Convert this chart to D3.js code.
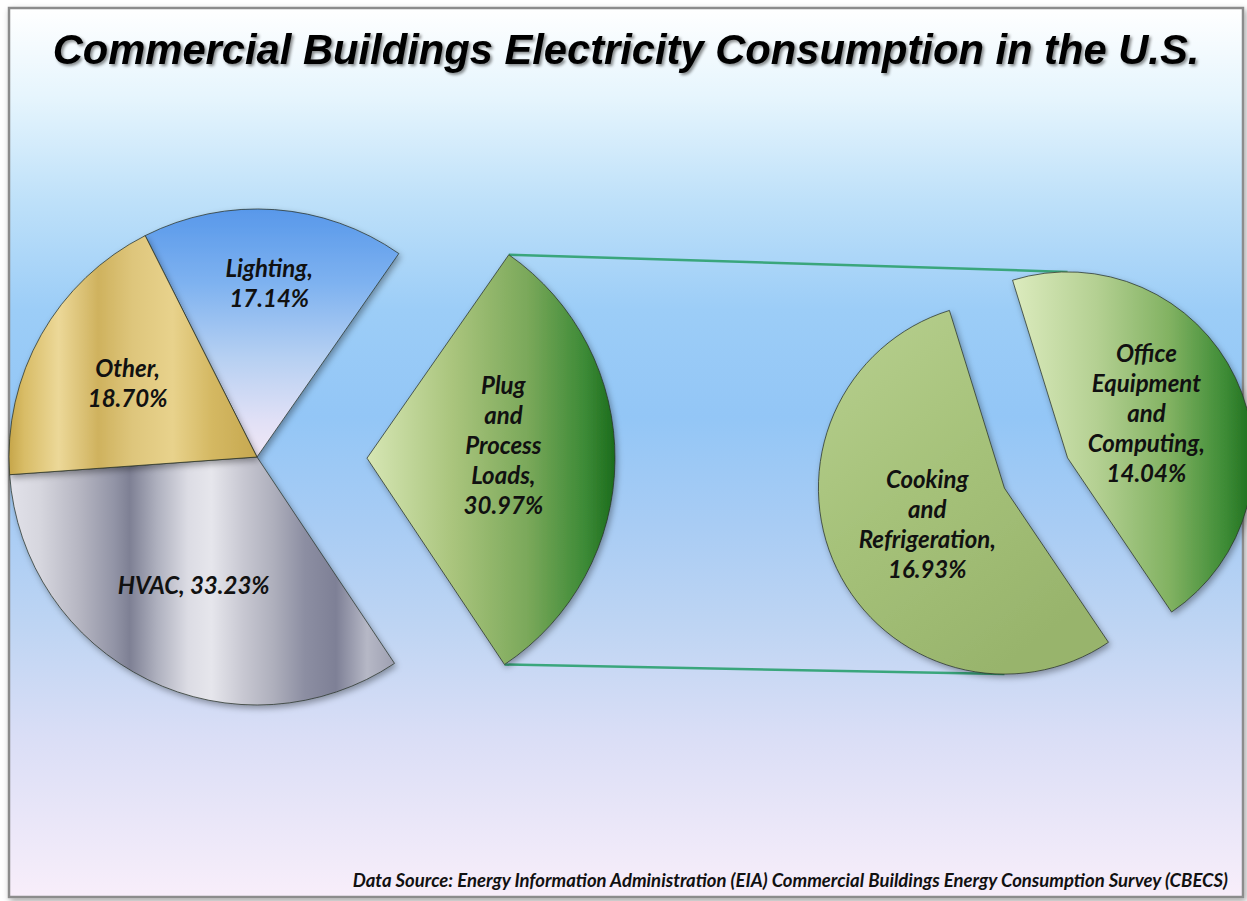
<!DOCTYPE html>
<html>
<head>
<meta charset="utf-8">
<script src="https://cdn.jsdelivr.net/npm/d3@7"></script>
<style>
  body { margin: 0; background: #fff; }
  svg text { font-family: Lato, "Open Sans", sans-serif; }
</style>
</head>
<body>
<div id="chart"></div>
<script>
// main pie, clockwise from the Lighting edge
var mainNames = ["Lighting", "Plug and Process Loads", "HVAC", "Other"];
var mainValues = [17.14, 30.97, 33.23, 18.70];
var mainOneLine = [false, false, true, false];

// breakdown of Plug and Process Loads
var subNames = ["Cooking and Refrigeration", "Office Equipment and Computing"];
var subValues = [16.93, 14.04];
var subOneLine = [false, false];

var title = "Commercial Buildings Electricity Consumption in the U.S.";
var source = "Data Source: Energy Information Administration (EIA) Commercial Buildings Energy Consumption Survey (CBECS)";

var width = 1247, height = 901;
var deg = Math.PI / 180;

var main = {cx: 257, cy: 457, r: 248, start: -26.8 * deg, explodeIdx: 1, explode: 110,
            labelR: [0.70, 0.55, 0.58, 0.60], labelDy: [0, -14, 0, 0]};
var sub = {cx: 1036, cy: 473, r: 186, start: 146 * deg, explode: 35,
           labelR: [0.46, 0.47], labelDy: [0, -6]};

var svg = d3.select("#chart").append("svg")
    .attr("width", width)
    .attr("height", height);

var defs = svg.append("defs");

function addGradient(id, stops, attrs) {
  var g = defs.append("linearGradient").attr("id", id);
  for (var k in attrs) g.attr(k, attrs[k]);
  stops.forEach(function(s) {
    g.append("stop").attr("offset", s[0]).attr("stop-color", s[1]);
  });
}

addGradient("bg", [[0, "#ffffff"], [0.1, "#e6f5fd"], [0.22, "#bde0f9"], [0.34, "#9ccdf7"],
  [0.46, "#93c6f6"], [0.58, "#a8ccf4"], [0.7, "#bfd5f3"], [0.82, "#dadef6"], [1, "#f8eefa"]],
  {x1: 0, y1: 0, x2: 0, y2: 1});

// slice paths sit in groups translated to the slice centre, so user-space gradients are relative to it
addGradient("g-lighting", [[0, "#5898ea"], [0.3, "#7eb2f0"], [0.6, "#b6d0f2"], [0.85, "#e0e0f6"], [1, "#f2e8f6"]],
  {x1: 0, y1: 0, x2: 0, y2: 1});
addGradient("g-hvac", [[0, "#e2e2ea"], [0.08, "#d6d6de"], [0.18, "#b6b6c2"], [0.27, "#9294a6"],
  [0.31, "#7e8094"], [0.38, "#aeb0be"], [0.46, "#dcdce4"], [0.52, "#e6e6ec"], [0.6, "#c8c8d2"],
  [0.68, "#aeafbc"], [0.76, "#8c8ea2"], [0.84, "#7e8096"], [0.92, "#b6b8c6"], [1, "#9a9cae"]],
  {gradientUnits: "userSpaceOnUse", x1: -main.r, y1: 0, x2: main.r * 0.57, y2: 0});
addGradient("g-other", [[0, "#c6a64a"], [0.06, "#d8bc66"], [0.2, "#ecd898"], [0.36, "#cfb25e"],
  [0.5, "#dec67c"], [0.66, "#e8d28c"], [0.82, "#d4b862"], [1, "#c6a850"]],
  {gradientUnits: "userSpaceOnUse", x1: -main.r, y1: 0, x2: 0, y2: 0});
addGradient("g-plug", [[0, "#d6e6b4"], [0.35, "#a9c47c"], [0.65, "#7aa85a"], [0.88, "#3c8a36"], [1, "#1c6c1c"]],
  {x1: 0, y1: 0, x2: 1, y2: 0});
addGradient("g-cooking", [[0, "#b8d090"], [0.5, "#a6c27a"], [1, "#98b46c"]],
  {x1: 0, y1: 0, x2: 0.6, y2: 1});
addGradient("g-office", [[0, "#dcebbe"], [0.35, "#b4d092"], [0.65, "#82b262"], [0.88, "#3e8c36"], [1, "#1e6e1e"]],
  {x1: 0, y1: 0, x2: 1, y2: 0});

var mainFills = ["url(#g-lighting)", "url(#g-plug)", "url(#g-hvac)", "url(#g-other)"];
var subFills = ["url(#g-cooking)", "url(#g-office)"];

var shadow = defs.append("filter").attr("id", "shadow")
    .attr("x", "-10%").attr("y", "-10%").attr("width", "130%").attr("height", "130%");
shadow.append("feDropShadow").attr("dx", 2).attr("dy", 3).attr("stdDeviation", 3)
    .attr("flood-color", "#000").attr("flood-opacity", 0.35);

var tshadow = defs.append("filter").attr("id", "tshadow")
    .attr("x", "-5%").attr("y", "-20%").attr("width", "110%").attr("height", "150%");
tshadow.append("feDropShadow").attr("dx", 2).attr("dy", 2).attr("stdDeviation", 1.5)
    .attr("flood-color", "#000").attr("flood-opacity", 0.45);

// frame
svg.append("rect")
    .attr("x", 9).attr("y", 8)
    .attr("width", 1234).attr("height", 889)
    .attr("fill", "url(#bg)")
    .attr("stroke", "#8c8c8c")
    .attr("stroke-width", 2.5)
    .attr("filter", "url(#shadow)");

svg.append("text")
    .attr("x", 626).attr("y", 64)
    .attr("text-anchor", "middle")
    .style("font-family", "'Liberation Sans', Arial, sans-serif")
    .style("font-weight", "bold")
    .style("font-style", "italic")
    .style("font-size", "41.7px")
    .attr("fill", "#000")
    .attr("filter", "url(#tshadow)")
    .text(title);

// pies
var mainPie = d3.pie().sort(null).value(function(d) { return d; })
    .startAngle(main.start).endAngle(main.start + 2 * Math.PI);
var subPie = d3.pie().sort(null).value(function(d) { return d; })
    .startAngle(sub.start).endAngle(sub.start + 2 * Math.PI);

var mainArcs = mainPie(mainValues);
var subArcs = subPie(subValues);

var mainArc = d3.arc().innerRadius(0).outerRadius(main.r);
var subArc = d3.arc().innerRadius(0).outerRadius(sub.r);

function mid(a) { return (a.startAngle + a.endAngle) / 2; }
function offset(a, dist) { return [dist * Math.sin(mid(a)), -dist * Math.cos(mid(a))]; }

mainArcs.forEach(function(a, i) {
  var o = offset(a, i === main.explodeIdx ? main.explode : 0);
  a.x = main.cx + o[0]; a.y = main.cy + o[1];
  a.r = main.r; a.name = mainNames[i]; a.fill = mainFills[i];
  a.oneLine = mainOneLine[i]; a.labelR = main.labelR[i]; a.labelDy = main.labelDy[i];
  a.arcFn = mainArc;
});
subArcs.forEach(function(a, i) {
  var o = offset(a, sub.explode);
  a.x = sub.cx + o[0]; a.y = sub.cy + o[1];
  a.r = sub.r; a.name = subNames[i]; a.fill = subFills[i];
  a.oneLine = subOneLine[i]; a.labelR = sub.labelR[i]; a.labelDy = sub.labelDy[i];
  a.arcFn = subArc;
});

// connector lines from exploded slice corners to the secondary pie
var ex = mainArcs[main.explodeIdx];
var office = subArcs[1], cooking = subArcs[0];
var connectors = [
  [[ex.x + main.r * Math.sin(ex.startAngle), ex.y - main.r * Math.cos(ex.startAngle)], [office.x, office.y - sub.r]],
  [[ex.x + main.r * Math.sin(ex.endAngle), ex.y - main.r * Math.cos(ex.endAngle)], [cooking.x, cooking.y + sub.r]]
];
svg.selectAll(".connector")
  .data(connectors)
  .enter().append("line")
    .attr("class", "connector")
    .attr("x1", function(d) { return d[0][0]; })
    .attr("y1", function(d) { return d[0][1]; })
    .attr("x2", function(d) { return d[1][0]; })
    .attr("y2", function(d) { return d[1][1]; })
    .attr("stroke", "#3aa67c")
    .attr("stroke-width", 2.5);

var allArcs = mainArcs.concat(subArcs);

var slices = svg.selectAll(".slice")
  .data(allArcs)
  .enter().append("g")
    .attr("class", "slice")
    .attr("transform", function(d) { return "translate(" + d.x + "," + d.y + ")"; });

slices.append("path")
    .attr("d", function(d) { return d.arcFn(d); })
    .attr("fill", function(d) { return d.fill; })
    .attr("stroke", "rgba(40,50,40,0.75)")
    .attr("stroke-width", 1)
    .attr("filter", "url(#shadow)");

// labels
function labelLines(d) {
  var v = d.value.toFixed(2) + "%";
  if (d.oneLine) return [d.name + ", " + v];
  var words = d.name.split(" ");
  words[words.length - 1] += ",";
  return words.concat([v]);
}

var lineH = 30;
slices.each(function(d) {
  var lines = labelLines(d);
  var p = offset(d, d.r * d.labelR);
  var t = d3.select(this).append("text")
      .attr("text-anchor", "middle")
      .style("font-weight", "bold")
      .style("font-style", "italic")
      .style("font-size", "24px")
      .attr("fill", "#111");
  var y0 = p[1] + d.labelDy - (lines.length - 1) * lineH / 2 + 8;
  lines.forEach(function(l, j) {
    t.append("tspan").attr("x", p[0]).attr("y", y0 + j * lineH).text(l);
  });
});

svg.append("text")
    .attr("x", 1228).attr("y", 887)
    .attr("text-anchor", "end")
    .style("font-weight", "bold")
    .style("font-style", "italic")
    .style("font-size", "18.5px")
    .attr("fill", "#111")
    .text(source);
</script>
</body>
</html>
